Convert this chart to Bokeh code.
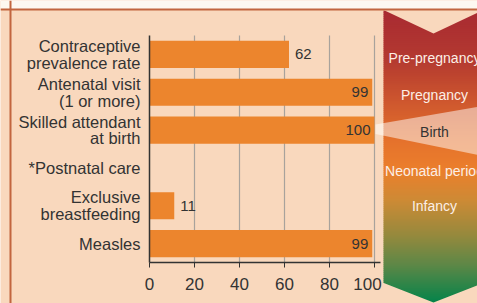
from bokeh.plotting import figure
from bokeh.models import (ColumnDataSource, Range1d, BoxAnnotation,
                          PolyAnnotation, Label, FixedTicker)
from bokeh.core.properties import value
from bokeh.embed import file_html
from bokeh.resources import INLINE

# ---------------- data ----------------
categories = ["Contraceptive\nprevalence rate", "Antenatal visit\n(1 or more)",
              "Skilled attendant\nat birth", "*Postnatal care",
              "Exclusive\nbreastfeeding", "Measles"]
values = [62, 99, 100, None, 11, 99]
x_ticks = [0, 20, 40, 60, 80, 100]
stages = ["Pre-pregnancy", "Pregnancy", "Birth", "Neonatal period", "Infancy"]

# ---------------- style / layout ----------------
W, H = 477, 303
PEACH = "#f9d8bd"
BAR = "#ec852d"
DARK = "#333333"
FONT_NAME = "Liberation Sans"
FONT = value(FONT_NAME)

# plot-area geometry in canvas pixels
AX_LEFT, AX_TOP, AX_BOTTOM = 149, 35, 262
PX_PER_UNIT = 2.25
X_END = 102.67
n = len(categories)
band = (AX_BOTTOM - AX_TOP) / n
x_range = Range1d(-AX_LEFT / PX_PER_UNIT, (W - AX_LEFT) / PX_PER_UNIT)
y_top = -AX_TOP / band - 0.5
y_bot = (H - AX_TOP) / band - 0.5
y_range = Range1d(y_bot, y_top)  # flipped: first category on top

pos = list(range(n))
bar_pos = [i for i, v in zip(pos, values) if v is not None]
bar_vals = [v for v in values if v is not None]
inside = [v >= 90 for v in bar_vals]
src = ColumnDataSource(dict(
    y=bar_pos, val=bar_vals, label=[str(v) for v in bar_vals],
    align=["right" if i else "left" for i in inside],
    xoff=[-4 if i else 6 for i in inside],
))

p = figure(width=W, height=H, x_range=x_range, y_range=y_range,
           output_backend="svg", toolbar_location=None, min_border=0)
p.background_fill_color = PEACH
p.border_fill_color = PEACH
p.outline_line_color = None
p.xgrid.visible = False
p.ygrid.visible = False

# grid lines (only across the plot area)
p.segment(x0=x_ticks[1:], x1=x_ticks[1:], y0=-0.5, y1=n - 0.5,
          line_color="#a8a29c", line_width=1.2, level="underlay")

p.hbar(y="y", left=0, right="val", height=0.72, source=src,
       fill_color=BAR, line_color=None)
p.text(x="val", y="y", text="label", source=src, text_align="align",
       x_offset="xoff", text_baseline="middle", text_font=FONT,
       text_font_size="15px", text_color=DARK)

# axes
ya = p.yaxis[0]
ya.fixed_location = 0
ya.bounds = (-0.5, n - 0.5)
ya.ticker = FixedTicker(ticks=pos)
ya.major_label_overrides = {i: c for i, c in zip(pos, categories)}
ya.major_tick_line_color = None
ya.minor_tick_line_color = None
ya.major_tick_out = 0
ya.major_tick_in = 0
ya.major_label_standoff = 9
ya.axis_line_color = DARK
ya.axis_line_width = 1.5
ya.major_label_text_font = FONT_NAME
ya.major_label_text_font_size = "16.5px"
ya.major_label_text_color = DARK
ya.major_label_text_line_height = 0.92

xa = p.xaxis[0]
xa.fixed_location = n - 0.5
xa.bounds = (0, X_END)
xa.ticker = FixedTicker(ticks=x_ticks)
# last label sits a little left of its tick, clear of the side panel
xa.major_label_overrides = {x_ticks[-1]: str(x_ticks[-1]) + "\u00a0\u00a0\u00a0"}
xa.major_tick_in = 0
xa.major_tick_out = 5
xa.major_tick_line_color = DARK
xa.minor_tick_line_color = None
xa.axis_line_color = DARK
xa.axis_line_width = 1.5
xa.major_label_standoff = 7
xa.major_label_text_font = FONT_NAME
xa.major_label_text_font_size = "17px"
xa.major_label_text_color = DARK

# ---------------- decorations (canvas units) ----------------
CU = dict(left_units="canvas", right_units="canvas",
          top_units="canvas", bottom_units="canvas")
PU = dict(xs_units="canvas", ys_units="canvas")

def hex2rgb(h):
    h = h.lstrip("#")
    return tuple(int(h[i:i + 2], 16) for i in (0, 2, 4))

stops = [(10, "#a82a32"), (60, "#b43a30"), (100, "#cd562e"), (140, "#e5722c"),
         (170, "#eb7f2c"), (200, "#cd8a35"), (235, "#95893d"), (265, "#5c8747"),
         (302, "#04834a")]

def color_at(y):
    for (y0, c0), (y1, c1) in zip(stops[:-1], stops[1:]):
        if y0 <= y <= y1:
            t = (y - y0) / (y1 - y0)
            a, b = hex2rgb(c0), hex2rgb(c1)
            return "#%02x%02x%02x" % tuple(round(a[k] + (b[k] - a[k]) * t) for k in range(3))
    return stops[-1][1] if y > stops[-1][0] else stops[0][1]

p.add_layout(BoxAnnotation(left=0, right=W, top=0, bottom=8.5, fill_color="#fdf8f1",
                           fill_alpha=1, line_color=None, **CU))

PX0, PX1, PMID = 383, 483, 433
y = 10
while y < H:
    p.add_layout(BoxAnnotation(left=PX0, right=PX1, top=y, bottom=y + 2.5,
                               fill_color=color_at(y + 1), fill_alpha=1,
                               line_color=None, **CU))
    y += 2

p.add_layout(PolyAnnotation(xs=[PX0 - 1, PMID, PX1 + 1], ys=[9, 33, 9],
                            fill_color=PEACH, fill_alpha=1, line_color=None, **PU))
p.add_layout(PolyAnnotation(xs=[PX0 - 1, PMID, PX1 + 1, PX1 + 1, PX0 - 1],
                            ys=[282, 302, 282, 310, 310],
                            fill_color=PEACH, fill_alpha=1, line_color=None, **PU))
# birth wedge
p.add_layout(PolyAnnotation(xs=[375, 480, 480, 375], ys=[124, 106, 155, 133.5],
                            fill_color="white", fill_alpha=0.5, line_color=None, **PU))

p.add_layout(BoxAnnotation(left=0, right=W, top=8, bottom=10, fill_color="#c2653f",
                           fill_alpha=1, line_color=None, **CU))
p.add_layout(BoxAnnotation(left=9, right=11, top=0, bottom=H, fill_color="#c2653f",
                           fill_alpha=1, line_color=None, **CU))

stage_y = [57, 94, 131, 170, 205]
for s, sy in zip(stages, stage_y):
    p.add_layout(Label(x=PMID + 1, y=sy, x_units="canvas", y_units="canvas", text=s,
                       text_align="center", text_baseline="middle",
                       text_font=FONT_NAME, text_font_size="14px",
                       text_color=DARK if s == "Birth" else "#fcefe6"))

open("out.html", "w").write(file_html(p, INLINE))
